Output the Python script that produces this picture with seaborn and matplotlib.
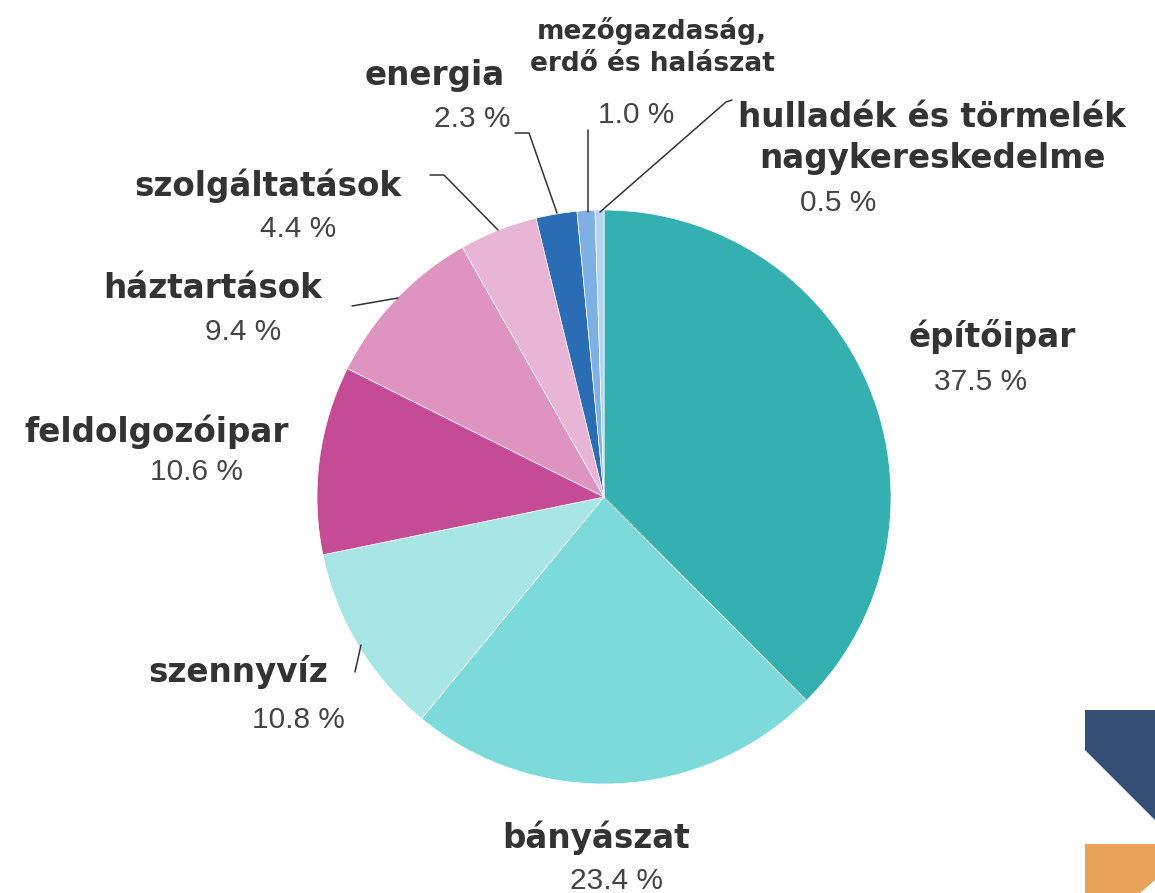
import matplotlib
matplotlib.use("Agg")
import matplotlib.pyplot as plt
import seaborn as sns
from matplotlib.patches import Polygon

sns.set_theme(style="white")
plt.rcParams['font.family'] = ['DejaVu Sans']

# ---- data ----
categories = ["építőipar", "bányászat", "szennyvíz", "feldolgozóipar", "háztartások",
              "szolgáltatások", "energia", "mezőgazdaság,\nerdő és halászat",
              "hulladék és törmelék\nnagykereskedelme"]
values = [37.5, 23.4, 10.8, 10.6, 9.4, 4.4, 2.3, 1.0, 0.5]
pct_labels = ["37.5 %", "23.4 %", "10.8 %", "10.6 %", "9.4 %", "4.4 %", "2.3 %", "1.0 %", "0.5 %"]
colors = ["#34b0b0", "#7cdada", "#a8e6e6", "#c64b96", "#df93c0", "#e8b5d6",
          "#2b6db5", "#7fb0e3", "#b5d3f0"]

W, H = 1155, 893
fig = plt.figure(figsize=(W / 100, H / 100), dpi=100)
ax = fig.add_axes([0, 0, 1, 1])

def P(x, y):
    return (x, H - y)

ax.pie(values, colors=colors, startangle=90, counterclock=False,
       center=P(604, 497), radius=287,
       wedgeprops=dict(linewidth=0.5, edgecolor="white"))
ax.set_xlim(0, W)
ax.set_ylim(0, H)
ax.set_aspect("equal")
ax.axis("off")

title_color = "#333333"
pct_color = "#444444"

# label layout (pixel positions: title, pct)
title_pos = [(992, 337), (596, 838), (238, 672), (157, 432), (213, 289),
             (268, 186), (435, 76), (652, 47), (932, 138)]
pct_pos = [(981, 382), (617, 881), (298, 720), (196, 472), (243, 332),
           (298, 229), (472, 119), (636, 115), (838, 203)]
title_sizes = [23.5, 23.5, 23.5, 23.5, 23.5, 23.5, 23.5, 19, 23.5]
line_spacing = [1.0, 1.0, 1.0, 1.0, 1.0, 1.0, 1.0, 1.3, 1.3]

for cat, tp, pp, pl, fs, ls in zip(categories, title_pos, pct_pos, pct_labels, title_sizes, line_spacing):
    ax.text(*P(*tp), cat, ha="center", va="center", fontsize=fs, fontweight="bold",
            color=title_color, linespacing=ls, family=["DejaVu Sans"])
    ax.text(*P(*pp), pl, ha="center", va="center", fontsize=21.5,
            color=pct_color, family=["Liberation Sans", "DejaVu Sans"])

# leader lines
leaders = [
    [(430, 175), (444, 175), (498, 230)],
    [(352, 306), (398, 298)],
    [(515, 133), (529, 133), (557, 213)],
    [(588, 130), (588, 212)],
    [(732, 100), (726, 102), (600, 212)],
    [(355, 672), (361, 645)],
]
for pts in leaders:
    xs = [p[0] for p in pts]
    ys = [H - p[1] for p in pts]
    ax.plot(xs, ys, color="#333333", linewidth=1.1)

# decorative corner shapes
ax.add_patch(Polygon([P(1085, 710), P(1155, 710), P(1155, 820), P(1085, 750)],
                     closed=True, facecolor="#344f73", edgecolor="none"))
ax.add_patch(Polygon([P(1085, 844), P(1155, 844), P(1155, 880), P(1140, 893), P(1085, 893)],
                     closed=True, facecolor="#e8a259", edgecolor="none"))

fig.savefig("out.png", dpi=100, facecolor="white")
